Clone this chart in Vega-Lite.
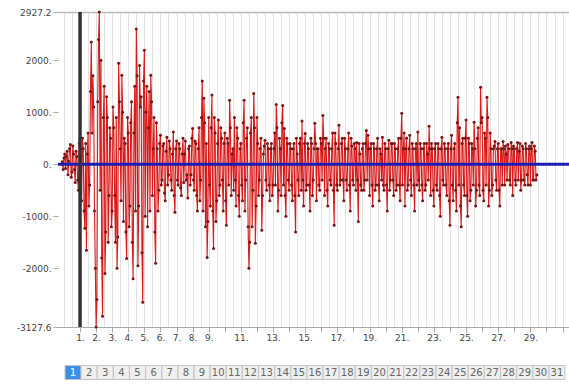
{
  "$schema": "https://vega.github.io/schema/vega-lite/v6.json",
  "background": "white",
  "padding": {"left": 5, "top": 8, "right": 0, "bottom": 0},
  "config": {"view": {"stroke": null}, "font": "DejaVu Sans"},
  "spacing": 18,
  "datasets": {
    "series": [
      {"x": -0.1, "y": 50}, {"x": 0, "y": 120}, {"x": 0.1, "y": -80}, {"x": 0.2, "y": 250}, {"x": 0.3, "y": 60}, {"x": 0.4, "y": 380}, {"x": 0.5, "y": -150}, {"x": 0.6, "y": 200}, {"x": 0.7, "y": -350}, {"x": 0.8, "y": 150}, {"x": 0.9, "y": -500},
      {"x": 1, "y": 850}, {"x": 1.1, "y": -700}, {"x": 1.2, "y": 300}, {"x": 1.3, "y": -1230}, {"x": 1.4, "y": -1650}, {"x": 1.5, "y": 600}, {"x": 1.6, "y": -400}, {"x": 1.7, "y": 2350}, {"x": 1.8, "y": 1700}, {"x": 1.9, "y": -900},
      {"x": 2, "y": -3127.6}, {"x": 2.1, "y": 1200}, {"x": 2.2, "y": 2927.2}, {"x": 2.3, "y": 2000}, {"x": 2.4, "y": -2920}, {"x": 2.5, "y": 1500}, {"x": 2.6, "y": -1300}, {"x": 2.7, "y": 900}, {"x": 2.8, "y": -600}, {"x": 2.9, "y": 500},
      {"x": 3, "y": -900}, {"x": 3.1, "y": 700}, {"x": 3.2, "y": -1500}, {"x": 3.3, "y": -2000}, {"x": 3.4, "y": 1940}, {"x": 3.5, "y": 300}, {"x": 3.6, "y": 1710}, {"x": 3.7, "y": -1100}, {"x": 3.8, "y": 400}, {"x": 3.9, "y": -1810},
      {"x": 4, "y": 600}, {"x": 4.1, "y": -800}, {"x": 4.2, "y": 1200}, {"x": 4.3, "y": -2200}, {"x": 4.4, "y": 1500}, {"x": 4.5, "y": 2600}, {"x": 4.6, "y": -1950}, {"x": 4.7, "y": 1900}, {"x": 4.8, "y": 1300}, {"x": 4.9, "y": -2650},
      {"x": 5, "y": 2190}, {"x": 5.1, "y": 1000}, {"x": 5.2, "y": -1200}, {"x": 5.3, "y": 1400}, {"x": 5.4, "y": 1710}, {"x": 5.5, "y": -600}, {"x": 5.6, "y": 900}, {"x": 5.7, "y": -1900}, {"x": 5.8, "y": 300}, {"x": 5.9, "y": -500},
      {"x": 6, "y": 560}, {"x": 6.1, "y": -300}, {"x": 6.2, "y": 400}, {"x": 6.3, "y": -700}, {"x": 6.4, "y": 520}, {"x": 6.5, "y": -200}, {"x": 6.6, "y": 300}, {"x": 6.7, "y": -500}, {"x": 6.8, "y": 620}, {"x": 6.9, "y": -920},
      {"x": 7, "y": 450}, {"x": 7.1, "y": -400}, {"x": 7.2, "y": 300}, {"x": 7.3, "y": -600}, {"x": 7.4, "y": 500}, {"x": 7.5, "y": 200}, {"x": 7.6, "y": -300}, {"x": 7.7, "y": -650}, {"x": 7.8, "y": 350}, {"x": 7.9, "y": -200},
      {"x": 8, "y": 690}, {"x": 8.1, "y": -500}, {"x": 8.2, "y": 400}, {"x": 8.3, "y": -900}, {"x": 8.4, "y": 700}, {"x": 8.5, "y": -300}, {"x": 8.6, "y": 1600}, {"x": 8.7, "y": 1270}, {"x": 8.8, "y": -1200}, {"x": 8.9, "y": -1790},
      {"x": 9, "y": 900}, {"x": 9.1, "y": -800}, {"x": 9.2, "y": 1330}, {"x": 9.3, "y": -1620}, {"x": 9.4, "y": 600}, {"x": 9.5, "y": -700}, {"x": 9.6, "y": 850}, {"x": 9.7, "y": -400}, {"x": 9.8, "y": 500}, {"x": 9.9, "y": -900},
      {"x": 10, "y": 600}, {"x": 10.1, "y": -1170}, {"x": 10.2, "y": 400}, {"x": 10.3, "y": 1230}, {"x": 10.4, "y": -600}, {"x": 10.5, "y": 300}, {"x": 10.6, "y": 900}, {"x": 10.7, "y": -800}, {"x": 10.8, "y": 500}, {"x": 10.9, "y": -1000},
      {"x": 11, "y": 400}, {"x": 11.1, "y": -700}, {"x": 11.2, "y": 1230}, {"x": 11.3, "y": -300}, {"x": 11.4, "y": 700}, {"x": 11.5, "y": -2000}, {"x": 11.6, "y": 600}, {"x": 11.7, "y": -1200}, {"x": 11.8, "y": 1360}, {"x": 11.9, "y": -1520},
      {"x": 12, "y": 900}, {"x": 12.1, "y": -600}, {"x": 12.2, "y": 300}, {"x": 12.3, "y": -1270}, {"x": 12.4, "y": 200}, {"x": 12.5, "y": 460}, {"x": 12.6, "y": -500}, {"x": 12.7, "y": 300}, {"x": 12.8, "y": -700}, {"x": 12.9, "y": 400},
      {"x": 13, "y": -400}, {"x": 13.1, "y": 600}, {"x": 13.2, "y": 1150}, {"x": 13.3, "y": -900}, {"x": 13.4, "y": 500}, {"x": 13.5, "y": -600}, {"x": 13.6, "y": 1130}, {"x": 13.7, "y": 690}, {"x": 13.8, "y": -1000}, {"x": 13.9, "y": 400},
      {"x": 14, "y": -500}, {"x": 14.1, "y": 300}, {"x": 14.2, "y": -700}, {"x": 14.3, "y": 400}, {"x": 14.4, "y": -1300}, {"x": 14.5, "y": 200}, {"x": 14.6, "y": -600}, {"x": 14.7, "y": 500}, {"x": 14.8, "y": 830}, {"x": 14.9, "y": -800},
      {"x": 15, "y": 590}, {"x": 15.1, "y": -400}, {"x": 15.2, "y": 300}, {"x": 15.3, "y": -900}, {"x": 15.4, "y": 400}, {"x": 15.5, "y": -300}, {"x": 15.6, "y": 790}, {"x": 15.7, "y": -700}, {"x": 15.8, "y": 300}, {"x": 15.9, "y": -500},
      {"x": 16, "y": 400}, {"x": 16.1, "y": 940}, {"x": 16.2, "y": -600}, {"x": 16.3, "y": 500}, {"x": 16.4, "y": -800}, {"x": 16.5, "y": 300}, {"x": 16.6, "y": -400}, {"x": 16.7, "y": 600}, {"x": 16.8, "y": -1170}, {"x": 16.9, "y": 400},
      {"x": 17, "y": -500}, {"x": 17.1, "y": 750}, {"x": 17.2, "y": -300}, {"x": 17.3, "y": 500}, {"x": 17.4, "y": -700}, {"x": 17.5, "y": 300}, {"x": 17.6, "y": -500}, {"x": 17.7, "y": 600}, {"x": 17.8, "y": -900}, {"x": 17.9, "y": 350},
      {"x": 18, "y": -400}, {"x": 18.1, "y": 300}, {"x": 18.2, "y": 420}, {"x": 18.3, "y": -1100}, {"x": 18.4, "y": 200}, {"x": 18.5, "y": -500}, {"x": 18.6, "y": 400}, {"x": 18.7, "y": -300}, {"x": 18.8, "y": 650}, {"x": 18.9, "y": 560},
      {"x": 19, "y": -600}, {"x": 19.1, "y": 400}, {"x": 19.2, "y": -800}, {"x": 19.3, "y": 300}, {"x": 19.4, "y": -400}, {"x": 19.5, "y": 500}, {"x": 19.6, "y": -700}, {"x": 19.7, "y": 200}, {"x": 19.8, "y": 520}, {"x": 19.9, "y": -500},
      {"x": 20, "y": 300}, {"x": 20.1, "y": -900}, {"x": 20.2, "y": 460}, {"x": 20.3, "y": -300}, {"x": 20.4, "y": 400}, {"x": 20.5, "y": -600}, {"x": 20.6, "y": 300}, {"x": 20.7, "y": -400}, {"x": 20.8, "y": 500}, {"x": 20.9, "y": -700},
      {"x": 21, "y": 980}, {"x": 21.1, "y": 300}, {"x": 21.2, "y": -800}, {"x": 21.3, "y": 500}, {"x": 21.4, "y": -400}, {"x": 21.5, "y": 560}, {"x": 21.6, "y": -600}, {"x": 21.7, "y": 300}, {"x": 21.8, "y": -900}, {"x": 21.9, "y": 400},
      {"x": 22, "y": 620}, {"x": 22.1, "y": -500}, {"x": 22.2, "y": 300}, {"x": 22.3, "y": -700}, {"x": 22.4, "y": 400}, {"x": 22.5, "y": -400}, {"x": 22.6, "y": 200}, {"x": 22.7, "y": 730}, {"x": 22.8, "y": -600}, {"x": 22.9, "y": 300},
      {"x": 23, "y": -800}, {"x": 23.1, "y": 400}, {"x": 23.2, "y": -500}, {"x": 23.3, "y": 300}, {"x": 23.4, "y": -1000}, {"x": 23.5, "y": 520}, {"x": 23.6, "y": -400}, {"x": 23.7, "y": 300}, {"x": 23.8, "y": -600}, {"x": 23.9, "y": 400},
      {"x": 24, "y": -1170}, {"x": 24.1, "y": 560}, {"x": 24.2, "y": -700}, {"x": 24.3, "y": 400}, {"x": 24.4, "y": -900}, {"x": 24.5, "y": 1290}, {"x": 24.6, "y": 700}, {"x": 24.7, "y": -1200}, {"x": 24.8, "y": 500}, {"x": 24.9, "y": -600},
      {"x": 25, "y": 850}, {"x": 25.1, "y": -1000}, {"x": 25.2, "y": 400}, {"x": 25.3, "y": -500}, {"x": 25.4, "y": 300}, {"x": 25.5, "y": 810}, {"x": 25.6, "y": -800}, {"x": 25.7, "y": 500}, {"x": 25.8, "y": -400}, {"x": 25.9, "y": 1480},
      {"x": 26, "y": 900}, {"x": 26.1, "y": -700}, {"x": 26.2, "y": 500}, {"x": 26.3, "y": 1290}, {"x": 26.4, "y": -800}, {"x": 26.5, "y": 600}, {"x": 26.6, "y": -600}, {"x": 26.7, "y": 300}, {"x": 26.8, "y": 440}, {"x": 26.9, "y": -500},
      {"x": 27, "y": 400}, {"x": 27.1, "y": -800}, {"x": 27.2, "y": 300}, {"x": 27.3, "y": 440}, {"x": 27.4, "y": -400}, {"x": 27.5, "y": 200}, {"x": 27.6, "y": 380}, {"x": 27.7, "y": -300}, {"x": 27.8, "y": 420}, {"x": 27.9, "y": -600},
      {"x": 28, "y": 300}, {"x": 28.1, "y": -400}, {"x": 28.2, "y": 420}, {"x": 28.3, "y": 250}, {"x": 28.4, "y": -500}, {"x": 28.5, "y": 350}, {"x": 28.6, "y": -300}, {"x": 28.7, "y": 400}, {"x": 28.8, "y": -200}, {"x": 28.9, "y": 300},
      {"x": 29, "y": -400}, {"x": 29.1, "y": 420}, {"x": 29.2, "y": -300}, {"x": 29.3, "y": 250}, {"x": 29.4, "y": -200},
      {"x": -0.05, "y": -100}, {"x": 0.05, "y": 200}, {"x": 0.15, "y": 150}, {"x": 0.25, "y": -200}, {"x": 0.35, "y": 300}, {"x": 0.45, "y": -250}, {"x": 0.55, "y": 350}, {"x": 0.65, "y": -100}, {"x": 0.75, "y": 250}, {"x": 0.85, "y": -300}, {"x": 0.95, "y": 400},
      {"x": 1.05, "y": 300}, {"x": 1.15, "y": 500}, {"x": 1.25, "y": -900}, {"x": 1.35, "y": 400}, {"x": 1.45, "y": 200}, {"x": 1.55, "y": -800}, {"x": 1.65, "y": 1400}, {"x": 1.75, "y": 600}, {"x": 1.85, "y": 1100}, {"x": 1.95, "y": -2000},
      {"x": 2.05, "y": -2600}, {"x": 2.15, "y": 2400}, {"x": 2.25, "y": -500}, {"x": 2.35, "y": -1800}, {"x": 2.45, "y": 900}, {"x": 2.55, "y": -2100}, {"x": 2.65, "y": 1300}, {"x": 2.75, "y": -1500}, {"x": 2.85, "y": 700}, {"x": 2.95, "y": -1200},
      {"x": 3.05, "y": 1100}, {"x": 3.15, "y": -600}, {"x": 3.25, "y": 900}, {"x": 3.35, "y": -1400}, {"x": 3.45, "y": 1200}, {"x": 3.55, "y": -700}, {"x": 3.65, "y": 1000}, {"x": 3.75, "y": 500}, {"x": 3.85, "y": -1300}, {"x": 3.95, "y": 900},
      {"x": 4.05, "y": -1200}, {"x": 4.15, "y": 800}, {"x": 4.25, "y": -1500}, {"x": 4.35, "y": 600}, {"x": 4.45, "y": -900}, {"x": 4.55, "y": 1700}, {"x": 4.65, "y": -800}, {"x": 4.75, "y": 1100}, {"x": 4.85, "y": -1700}, {"x": 4.95, "y": 1600},
      {"x": 5.05, "y": -1000}, {"x": 5.15, "y": 1500}, {"x": 5.25, "y": 700}, {"x": 5.35, "y": -900}, {"x": 5.45, "y": 1200}, {"x": 5.55, "y": 300}, {"x": 5.65, "y": -1300}, {"x": 5.75, "y": 800}, {"x": 5.85, "y": -900}, {"x": 5.95, "y": 400},
      {"x": 6.05, "y": -400}, {"x": 6.15, "y": 350}, {"x": 6.25, "y": -550}, {"x": 6.35, "y": 250}, {"x": 6.45, "y": -400}, {"x": 6.55, "y": 450}, {"x": 6.65, "y": -300}, {"x": 6.75, "y": 200}, {"x": 6.85, "y": -600}, {"x": 6.95, "y": 300},
      {"x": 7.05, "y": -300}, {"x": 7.15, "y": 400}, {"x": 7.25, "y": -450}, {"x": 7.35, "y": 200}, {"x": 7.45, "y": -350}, {"x": 7.55, "y": 450}, {"x": 7.65, "y": -200}, {"x": 7.75, "y": 300}, {"x": 7.85, "y": -400}, {"x": 7.95, "y": 500},
      {"x": 8.05, "y": -300}, {"x": 8.15, "y": 450}, {"x": 8.25, "y": -600}, {"x": 8.35, "y": 300}, {"x": 8.45, "y": -700}, {"x": 8.55, "y": 900}, {"x": 8.65, "y": -900}, {"x": 8.75, "y": 800}, {"x": 8.85, "y": 400}, {"x": 8.95, "y": -1100},
      {"x": 9.05, "y": -400}, {"x": 9.15, "y": 700}, {"x": 9.25, "y": -900}, {"x": 9.35, "y": 900}, {"x": 9.45, "y": -1100}, {"x": 9.55, "y": 400}, {"x": 9.65, "y": -600}, {"x": 9.75, "y": 700}, {"x": 9.85, "y": -300}, {"x": 9.95, "y": 400},
      {"x": 10.05, "y": -700}, {"x": 10.15, "y": 500}, {"x": 10.25, "y": -400}, {"x": 10.35, "y": 700}, {"x": 10.45, "y": 200}, {"x": 10.55, "y": -500}, {"x": 10.65, "y": -300}, {"x": 10.75, "y": 700}, {"x": 10.85, "y": -600}, {"x": 10.95, "y": 300},
      {"x": 11.05, "y": -400}, {"x": 11.15, "y": 800}, {"x": 11.25, "y": -900}, {"x": 11.35, "y": 500}, {"x": 11.45, "y": -1200}, {"x": 11.55, "y": -1500}, {"x": 11.65, "y": 900}, {"x": 11.75, "y": -500}, {"x": 11.85, "y": 700}, {"x": 11.95, "y": -800},
      {"x": 12.05, "y": 400}, {"x": 12.15, "y": -300}, {"x": 12.25, "y": 500}, {"x": 12.35, "y": -600}, {"x": 12.45, "y": 350}, {"x": 12.55, "y": -300}, {"x": 12.65, "y": 400}, {"x": 12.75, "y": -400}, {"x": 12.85, "y": 300}, {"x": 12.95, "y": -600},
      {"x": 13.05, "y": 300}, {"x": 13.15, "y": -400}, {"x": 13.25, "y": 700}, {"x": 13.35, "y": -500}, {"x": 13.45, "y": 300}, {"x": 13.55, "y": 800}, {"x": 13.65, "y": -400}, {"x": 13.75, "y": -600}, {"x": 13.85, "y": 500}, {"x": 13.95, "y": -300},
      {"x": 14.05, "y": 400}, {"x": 14.15, "y": -400}, {"x": 14.25, "y": 300}, {"x": 14.35, "y": -600}, {"x": 14.45, "y": 500}, {"x": 14.55, "y": -300}, {"x": 14.65, "y": 400}, {"x": 14.75, "y": -500}, {"x": 14.85, "y": -300}, {"x": 14.95, "y": 400},
      {"x": 15.05, "y": -500}, {"x": 15.15, "y": 400}, {"x": 15.25, "y": -400}, {"x": 15.35, "y": 500}, {"x": 15.45, "y": -600}, {"x": 15.55, "y": 300}, {"x": 15.65, "y": 400}, {"x": 15.75, "y": 300}, {"x": 15.85, "y": -400}, {"x": 15.95, "y": 500},
      {"x": 16.05, "y": -300}, {"x": 16.15, "y": 500}, {"x": 16.25, "y": 300}, {"x": 16.35, "y": -500}, {"x": 16.45, "y": 400}, {"x": 16.55, "y": -300}, {"x": 16.65, "y": 300}, {"x": 16.75, "y": -500}, {"x": 16.85, "y": 600}, {"x": 16.95, "y": -400},
      {"x": 17.05, "y": 300}, {"x": 17.15, "y": -400}, {"x": 17.25, "y": 400}, {"x": 17.35, "y": -300}, {"x": 17.45, "y": 500}, {"x": 17.55, "y": -300}, {"x": 17.65, "y": 300}, {"x": 17.75, "y": -400}, {"x": 17.85, "y": 500}, {"x": 17.95, "y": -300},
      {"x": 18.05, "y": 400}, {"x": 18.15, "y": -500}, {"x": 18.25, "y": -300}, {"x": 18.35, "y": 400}, {"x": 18.45, "y": -400}, {"x": 18.55, "y": 300}, {"x": 18.65, "y": -500}, {"x": 18.75, "y": 400}, {"x": 18.85, "y": -300}, {"x": 18.95, "y": 300},
      {"x": 19.05, "y": 300}, {"x": 19.15, "y": -400}, {"x": 19.25, "y": 400}, {"x": 19.35, "y": -500}, {"x": 19.45, "y": 300}, {"x": 19.55, "y": -400}, {"x": 19.65, "y": 300}, {"x": 19.75, "y": -300}, {"x": 19.85, "y": -400}, {"x": 19.95, "y": 400},
      {"x": 20.05, "y": -400}, {"x": 20.15, "y": 300}, {"x": 20.25, "y": -500}, {"x": 20.35, "y": 400}, {"x": 20.45, "y": -300}, {"x": 20.55, "y": 400}, {"x": 20.65, "y": -500}, {"x": 20.75, "y": 300}, {"x": 20.85, "y": -400}, {"x": 20.95, "y": 500},
      {"x": 21.05, "y": -400}, {"x": 21.15, "y": 600}, {"x": 21.25, "y": 300}, {"x": 21.35, "y": -500}, {"x": 21.45, "y": 300}, {"x": 21.55, "y": -300}, {"x": 21.65, "y": 400}, {"x": 21.75, "y": -400}, {"x": 21.85, "y": 300}, {"x": 21.95, "y": -400},
      {"x": 22.05, "y": -300}, {"x": 22.15, "y": 400}, {"x": 22.25, "y": -400}, {"x": 22.35, "y": 300}, {"x": 22.45, "y": -500}, {"x": 22.55, "y": 400}, {"x": 22.65, "y": -300}, {"x": 22.75, "y": 300}, {"x": 22.85, "y": 400}, {"x": 22.95, "y": -500},
      {"x": 23.05, "y": 300}, {"x": 23.15, "y": -400}, {"x": 23.25, "y": 400}, {"x": 23.35, "y": -600}, {"x": 23.45, "y": 300}, {"x": 23.55, "y": -300}, {"x": 23.65, "y": 400}, {"x": 23.75, "y": -400}, {"x": 23.85, "y": 300}, {"x": 23.95, "y": -700},
      {"x": 24.05, "y": 300}, {"x": 24.15, "y": -400}, {"x": 24.25, "y": 300}, {"x": 24.35, "y": -500}, {"x": 24.45, "y": 800}, {"x": 24.55, "y": -400}, {"x": 24.65, "y": -800}, {"x": 24.75, "y": 400}, {"x": 24.85, "y": -400}, {"x": 24.95, "y": 500},
      {"x": 25.05, "y": -600}, {"x": 25.15, "y": 500}, {"x": 25.25, "y": -700}, {"x": 25.35, "y": 400}, {"x": 25.45, "y": -400}, {"x": 25.55, "y": 300}, {"x": 25.65, "y": -500}, {"x": 25.75, "y": 700}, {"x": 25.85, "y": -600}, {"x": 25.95, "y": 800},
      {"x": 26.05, "y": -500}, {"x": 26.15, "y": 600}, {"x": 26.25, "y": -400}, {"x": 26.35, "y": 900}, {"x": 26.45, "y": -500}, {"x": 26.55, "y": 300}, {"x": 26.65, "y": -400}, {"x": 26.75, "y": 350}, {"x": 26.85, "y": -300}, {"x": 26.95, "y": 300},
      {"x": 27.05, "y": -500}, {"x": 27.15, "y": 300}, {"x": 27.25, "y": -400}, {"x": 27.35, "y": 300}, {"x": 27.45, "y": 350}, {"x": 27.55, "y": -300}, {"x": 27.65, "y": 300}, {"x": 27.75, "y": -400}, {"x": 27.85, "y": 300}, {"x": 27.95, "y": 350},
      {"x": 28.05, "y": -300}, {"x": 28.15, "y": 300}, {"x": 28.25, "y": -300}, {"x": 28.35, "y": 400}, {"x": 28.45, "y": -300}, {"x": 28.55, "y": 300}, {"x": 28.65, "y": -400}, {"x": 28.75, "y": 300}, {"x": 28.85, "y": -400}, {"x": 28.95, "y": 350},
      {"x": 29.05, "y": 300}, {"x": 29.15, "y": -300}, {"x": 29.25, "y": 350}, {"x": 29.35, "y": -300}
    ],
    "pages": [
      {"p": 1}, {"p": 2}, {"p": 3}, {"p": 4}, {"p": 5}, {"p": 6}, {"p": 7}, {"p": 8}, {"p": 9}, {"p": 10}, {"p": 11},
      {"p": 12}, {"p": 13}, {"p": 14}, {"p": 15}, {"p": 16}, {"p": 17}, {"p": 18}, {"p": 19}, {"p": 20}, {"p": 21}, {"p": 22},
      {"p": 23}, {"p": 24}, {"p": 25}, {"p": 26}, {"p": 27}, {"p": 28}, {"p": 29}, {"p": 30}, {"p": 31}
    ]
  },
  "vconcat": [
    {
      "width": 511,
      "height": 315,
      "layer": [
        {
          "data": {"name": "series"},
          "mark": {"type": "line", "color": "#d81a1a", "strokeWidth": 1.1},
          "encoding": {
            "x": {
              "field": "x", "type": "quantitative",
              "scale": {"domain": [-0.37, 31.4], "nice": false, "zero": false},
              "axis": {
                "title": null,
                "tickCount": 200,
                "values": [0, 0.5, 1, 1.5, 2, 2.5, 3, 3.5, 4, 4.5, 5, 5.5, 6, 6.5, 7, 7.5, 8, 8.5, 9, 9.5, 10, 10.5, 11, 11.5, 12, 12.5, 13, 13.5, 14, 14.5, 15, 15.5, 16, 16.5, 17, 17.5, 18, 18.5, 19, 19.5, 20, 20.5, 21, 21.5, 22, 22.5, 23, 23.5, 24, 24.5, 25, 25.5, 26, 26.5, 27, 27.5, 28, 28.5, 29, 29.5, 30, 30.5, 31],
                "labelExpr": "(datum.value % 1 !== 0 || datum.value < 1 || datum.value > 30 || (datum.value >= 10 && datum.value % 2 === 0)) ? '' : datum.value + '.'",
                "tickOpacity": {"condition": {"test": "datum.value % 1 === 0 && datum.value >= 1", "value": 1}, "value": 0},
                "grid": true,
                "gridColor": "#e2e2e2",
                "domainColor": "#aaaaaa",
                "tickColor": "#aaaaaa",
                "tickSize": 5,
                "labelFontSize": 9,
                "labelColor": "#444444",
                "labelPadding": 1,
                "labelOverlap": false,
                "labelFlush": false,
                "labelBound": false,
                "minExtent": 20,
                "maxExtent": 20
              }
            },
            "y": {
              "field": "y", "type": "quantitative",
              "scale": {"domain": [-3127.6, 2927.2], "nice": false, "zero": false},
              "axis": {
                "title": null,
                "values": [-3127.6, -2000, -1000, 0, 1000, 2000, 2927.2],
                "labelExpr": "datum.value % 1 === 0 ? datum.value + '.' : datum.value + ''",
                "domain": false,
                "tickColor": "#aaaaaa",
                "tickSize": 5,
                "labelColor": "#444444",
                "labelFontSize": 9,
                "labelPadding": 2,
                "labelOverlap": false,
                "grid": true,
                "gridColor": "#bbbbbb",
                "gridWidth": 1.5,
                "gridOpacity": {"condition": {"test": "datum.value > 2900", "value": 1}, "value": 0},
                "minExtent": 53,
                "maxExtent": 53
              }
            }
          }
        },
        {
          "data": {"name": "series"},
          "mark": {"type": "circle", "color": "#761616", "size": 9, "opacity": 1},
          "encoding": {
            "x": {"field": "x", "type": "quantitative"},
            "y": {"field": "y", "type": "quantitative"}
          }
        },
        {
          "data": {"values": [{}]},
          "mark": {"type": "rule", "color": "#1c1cb4", "strokeWidth": 3},
          "encoding": {"y": {"datum": 0, "type": "quantitative"}}
        },
        {
          "data": {"values": [{}]},
          "mark": {"type": "rule", "color": "#333333", "strokeWidth": 3.5},
          "encoding": {"x": {"datum": 1, "type": "quantitative"}}
        }
      ]
    },
    {
      "width": 511,
      "height": 15,
      "data": {"name": "pages"},
      "layer": [
        {
          "mark": {"type": "point", "shape": "M-1,-0.875H1V0.875H-1Z", "size": 256, "filled": true, "opacity": 1, "stroke": "#c4c4c4", "strokeWidth": 1, "clip": true},
          "encoding": {
            "x": {"field": "p", "type": "quantitative", "scale": {"domain": [0.07, 31.75], "nice": false, "zero": false}, "axis": null},
            "color": {"condition": {"test": "datum.p === 1", "value": "#3b8fe4"}, "value": "#efefef"}
          }
        },
        {
          "mark": {"type": "text", "fontSize": 10, "clip": true},
          "encoding": {
            "x": {"field": "p", "type": "quantitative"},
            "text": {"field": "p"},
            "color": {"condition": {"test": "datum.p === 1", "value": "white"}, "value": "#666666"}
          }
        }
      ]
    }
  ]
}
